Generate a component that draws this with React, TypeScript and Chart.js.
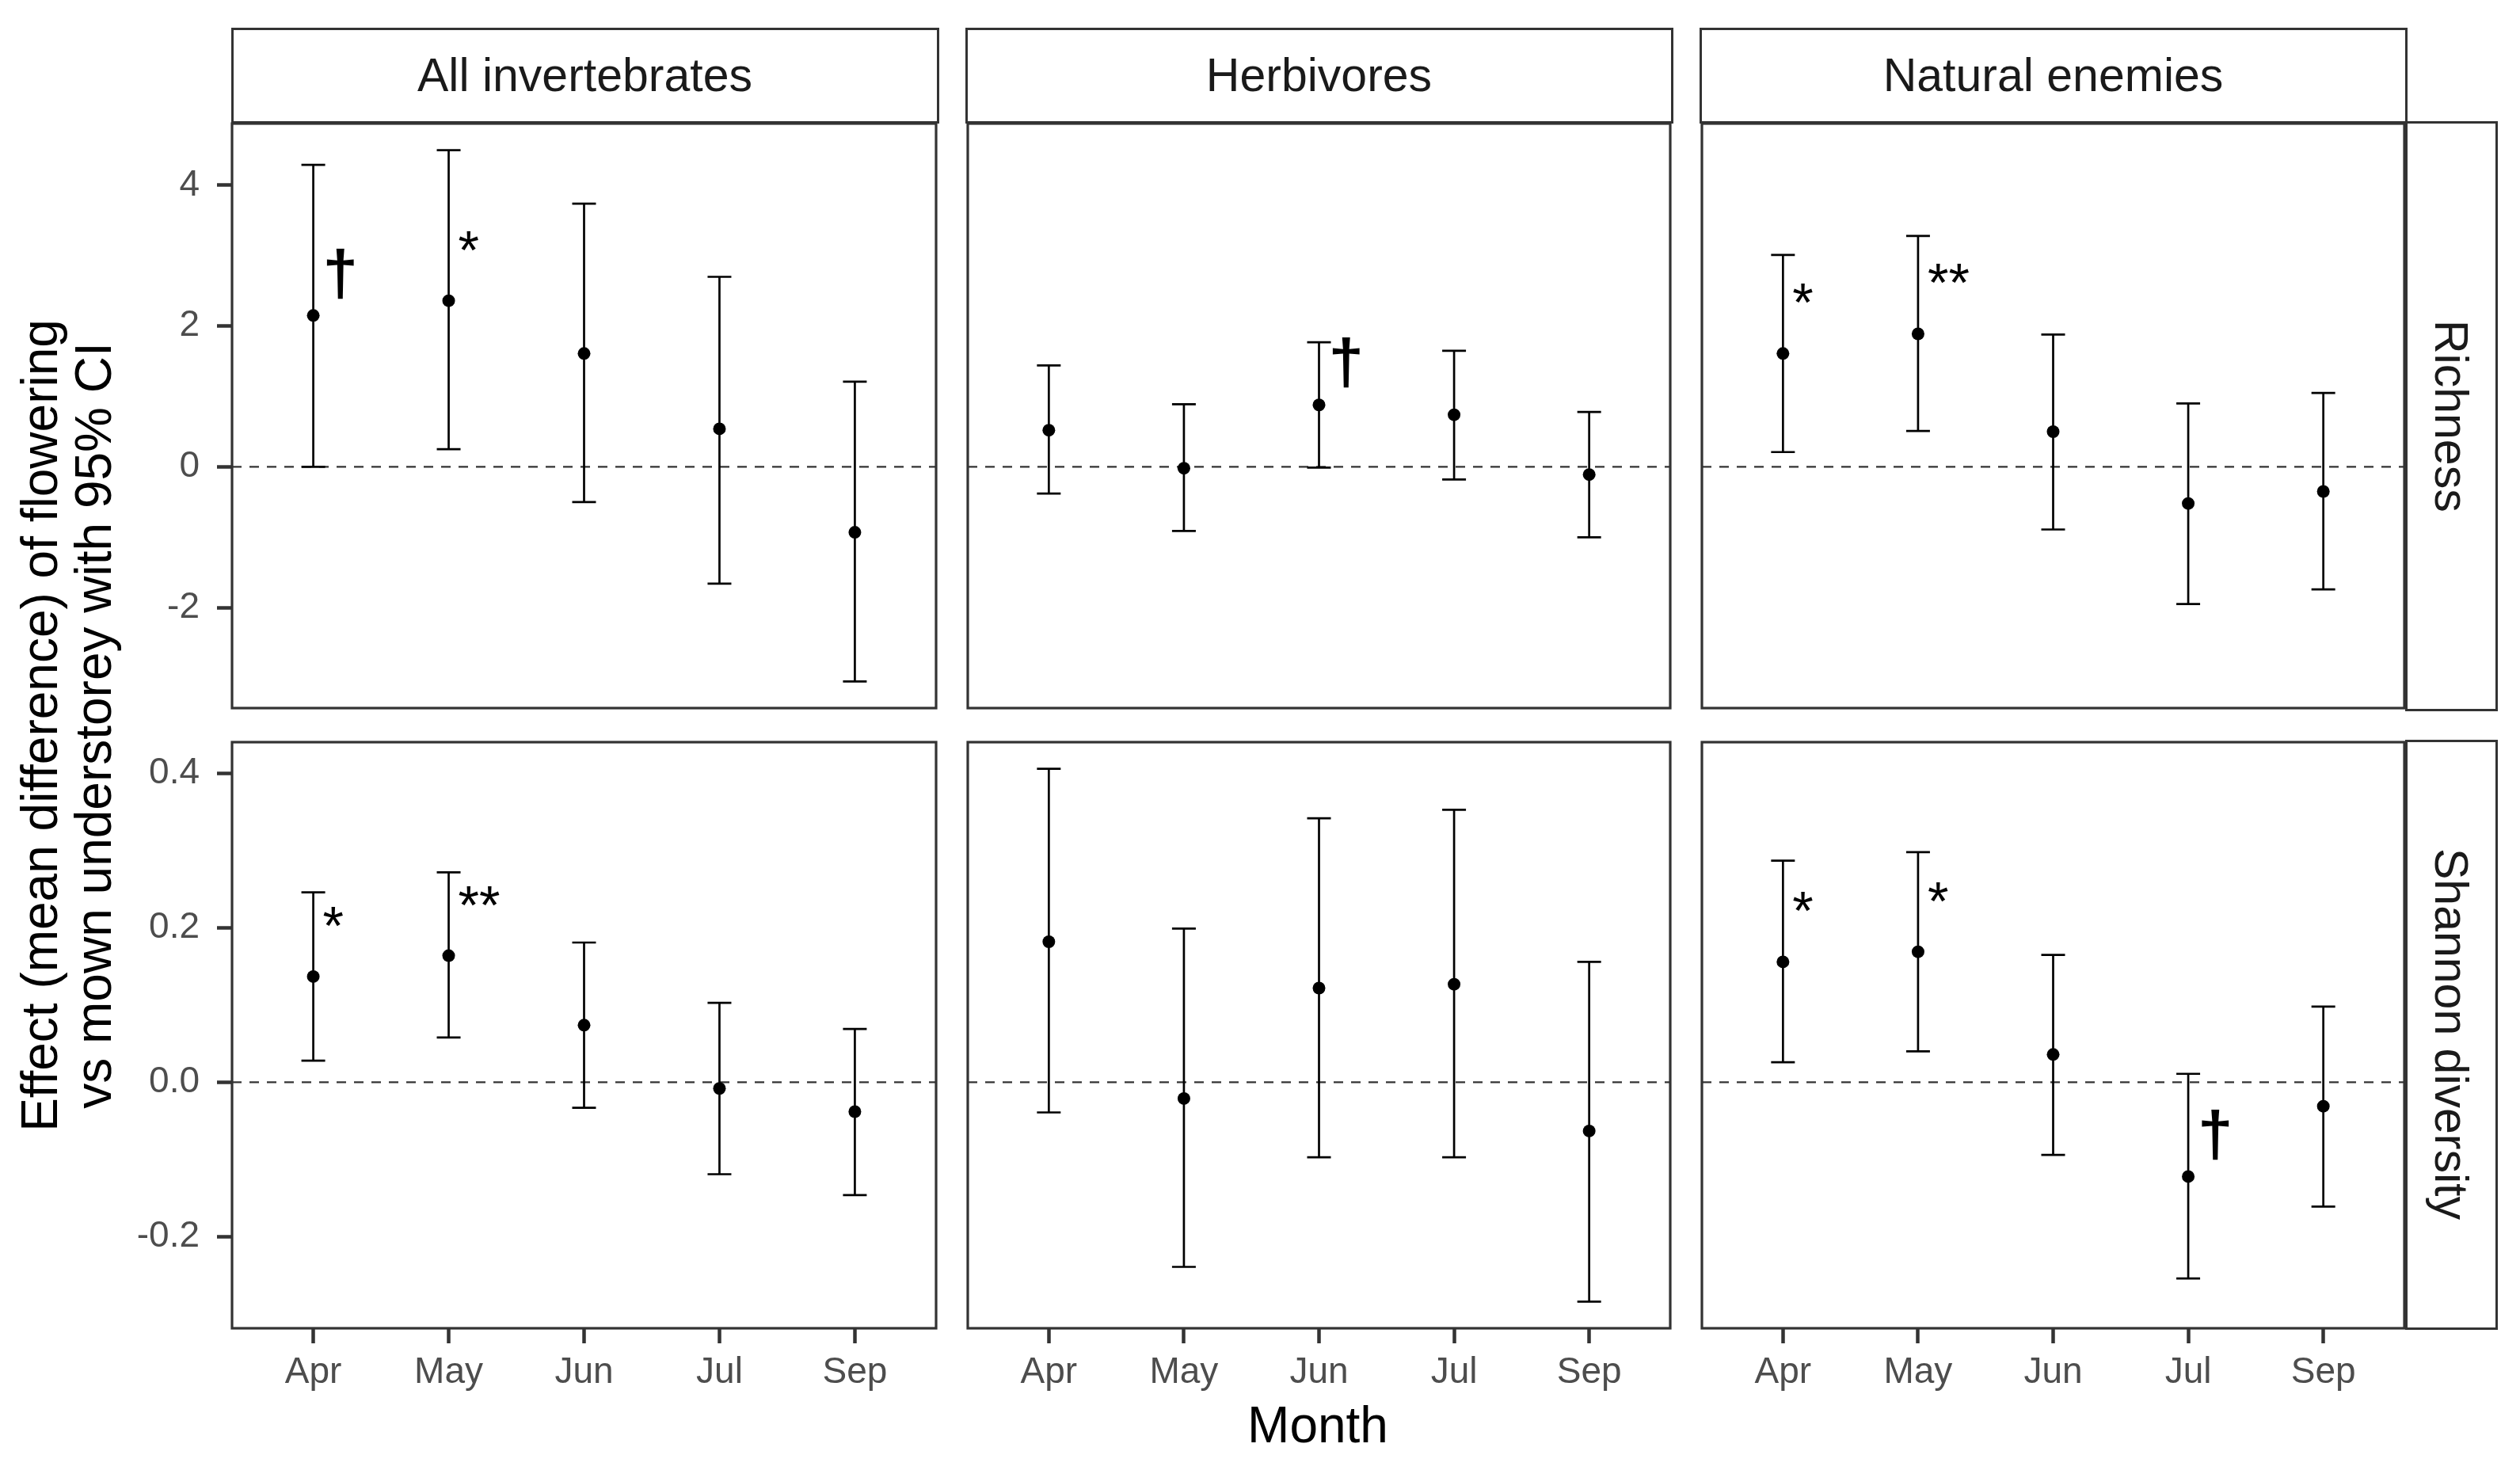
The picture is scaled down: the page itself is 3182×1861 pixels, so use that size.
import React, { useEffect, useRef } from 'react';
import { Chart, registerables } from 'chart.js';

Chart.register(...registerables);

// ---------------- data ----------------
const months = ['Apr', 'May', 'Jun', 'Jul', 'Sep'];
const groups = ['All invertebrates', 'Herbivores', 'Natural enemies'];
const measures = ['Richness', 'Shannon diversity'];

const richnessTicks = [-2, 0, 2, 4];
const richnessTickLabels = ['-2', '0', '2', '4'];
const shannonTicks = [-0.2, 0, 0.2, 0.4];
const shannonTickLabels = ['-0.2', '0.0', '0.2', '0.4'];

// Richness - All invertebrates
const richAllMean = [2.15, 2.36, 1.61, 0.54, -0.93];
const richAllLow = [0.0, 0.25, -0.5, -1.66, -3.05];
const richAllHigh = [4.29, 4.5, 3.74, 2.7, 1.21];
const richAllSig = ['†', '*', '', '', ''];

// Richness - Herbivores
const richHerbMean = [0.52, -0.02, 0.88, 0.74, -0.11];
const richHerbLow = [-0.38, -0.91, -0.01, -0.18, -1.0];
const richHerbHigh = [1.44, 0.89, 1.77, 1.65, 0.78];
const richHerbSig = ['', '', '†', '', ''];

// Richness - Natural enemies
const richNatMean = [1.61, 1.89, 0.5, -0.52, -0.35];
const richNatLow = [0.21, 0.51, -0.89, -1.95, -1.74];
const richNatHigh = [3.01, 3.28, 1.88, 0.9, 1.05];
const richNatSig = ['*', '**', '', '', ''];

// Shannon - All invertebrates
const shanAllMean = [0.137, 0.164, 0.074, -0.008, -0.038];
const shanAllLow = [0.028, 0.058, -0.033, -0.119, -0.146];
const shanAllHigh = [0.246, 0.272, 0.181, 0.103, 0.069];
const shanAllSig = ['*', '**', '', '', ''];

// Shannon - Herbivores
const shanHerbMean = [0.182, -0.021, 0.122, 0.127, -0.063];
const shanHerbLow = [-0.039, -0.239, -0.097, -0.097, -0.284];
const shanHerbHigh = [0.406, 0.199, 0.342, 0.353, 0.156];
const shanHerbSig = ['', '', '', '', ''];

// Shannon - Natural enemies
const shanNatMean = [0.156, 0.169, 0.036, -0.122, -0.031];
const shanNatLow = [0.026, 0.04, -0.094, -0.254, -0.161];
const shanNatHigh = [0.287, 0.298, 0.165, 0.011, 0.098];
const shanNatSig = ['*', '*', '', '†', ''];

// ---------------- layout / style ----------------
const W = 3182;
const H = 1861;
const PW = 891;
const PH = 742;
const colLeft = [293, 1220, 2147];
const rowTop = [154, 935];
const YW = 150;
const XH = 100;
const PAD = 6;
const CAP = 15;
const FONT = '"Liberation Sans", Arial, Helvetica, sans-serif';
const labelOffsets = [0.55, 0.05]; // label anchor above mean, per row (data units)

type Series = { mean: number[]; low: number[]; high: number[]; sig: string[] };

const rows: { ticks: number[]; tickLabels: string[]; series: Series[] }[] = [
  {
    ticks: richnessTicks,
    tickLabels: richnessTickLabels,
    series: [
      { mean: richAllMean, low: richAllLow, high: richAllHigh, sig: richAllSig },
      { mean: richHerbMean, low: richHerbLow, high: richHerbHigh, sig: richHerbSig },
      { mean: richNatMean, low: richNatLow, high: richNatHigh, sig: richNatSig },
    ],
  },
  {
    ticks: shannonTicks,
    tickLabels: shannonTickLabels,
    series: [
      { mean: shanAllMean, low: shanAllLow, high: shanAllHigh, sig: shanAllSig },
      { mean: shanHerbMean, low: shanHerbLow, high: shanHerbHigh, sig: shanHerbSig },
      { mean: shanNatMean, low: shanNatLow, high: shanNatHigh, sig: shanNatSig },
    ],
  },
];

function rowRange(r: number) {
  let lo = Infinity;
  let hi = -Infinity;
  rows[r].series.forEach((s) => {
    s.low.forEach((v) => (lo = Math.min(lo, v)));
    s.high.forEach((v) => (hi = Math.max(hi, v)));
  });
  const e = (hi - lo) * 0.05;
  return { min: lo - e, max: hi + e };
}

function canvasBox(r: number, c: number) {
  const left = colLeft[c] - PAD - (c === 0 ? YW : 0);
  const top = rowTop[r] - PAD;
  const width = PW + 2 * PAD + (c === 0 ? YW : 0);
  const height = PH + 2 * PAD + (r === 1 ? XH : 0);
  return { left, top, width, height };
}

function makePlugin(s: Series, offset: number) {
  return {
    id: 'panelDecor',
    beforeDatasetsDraw(chart: any) {
      const { ctx, chartArea: ca, scales } = chart;
      const x = scales.x;
      const y = scales.y;
      ctx.save();
      const y0 = y.getPixelForValue(0);
      ctx.beginPath();
      ctx.setLineDash([12, 10]);
      ctx.lineWidth = 2.3;
      ctx.strokeStyle = '#333333';
      ctx.moveTo(ca.left, y0);
      ctx.lineTo(ca.right, y0);
      ctx.stroke();
      ctx.setLineDash([]);
      ctx.strokeStyle = '#000000';
      ctx.lineWidth = 2.7;
      s.mean.forEach((_, i) => {
        const px = x.getPixelForValue(i + 1);
        const lo = y.getPixelForValue(s.low[i]);
        const hi = y.getPixelForValue(s.high[i]);
        ctx.beginPath();
        ctx.moveTo(px, lo);
        ctx.lineTo(px, hi);
        ctx.moveTo(px - CAP, lo);
        ctx.lineTo(px + CAP, lo);
        ctx.moveTo(px - CAP, hi);
        ctx.lineTo(px + CAP, hi);
        ctx.stroke();
      });
      ctx.restore();
    },
    afterDatasetsDraw(chart: any) {
      const { ctx, scales } = chart;
      ctx.save();
      ctx.fillStyle = '#000000';
      ctx.textAlign = 'left';
      ctx.textBaseline = 'middle';
      s.sig.forEach((lab, i) => {
        if (!lab) return;
        const px = scales.x.getPixelForValue(i + 1);
        const py = scales.y.getPixelForValue(s.mean[i] + offset);
        const isDagger = lab === '†';
        ctx.font = isDagger ? `bold 80px ${FONT}` : `68px ${FONT}`;
        ctx.fillText(lab, px + 12, isDagger ? py : py - 11);
      });
      ctx.restore();
    },
    afterDraw(chart: any) {
      const { ctx, chartArea: ca } = chart;
      ctx.save();
      ctx.strokeStyle = '#333333';
      ctx.lineWidth = 3.2;
      ctx.strokeRect(ca.left, ca.top, ca.right - ca.left, ca.bottom - ca.top);
      ctx.restore();
    },
  };
}

export default function App() {
  const refs = useRef<(HTMLCanvasElement | null)[]>([]);

  useEffect(() => {
    document.body.style.margin = '0';
    const charts: Chart[] = [];
    rows.forEach((row, r) => {
      const range = rowRange(r);
      row.series.forEach((s, c) => {
        const canvas = refs.current[r * 3 + c];
        if (!canvas) return;
        const isLeft = c === 0;
        const isBottom = r === 1;
        const chart = new Chart(canvas, {
          type: 'scatter',
          data: {
            datasets: [
              {
                data: s.mean.map((m, i) => ({ x: i + 1, y: m })),
                pointRadius: 8,
                pointHoverRadius: 8,
                pointBackgroundColor: '#000000',
                pointBorderWidth: 0,
                borderColor: '#000000',
              },
            ],
          },
          options: {
            animation: false,
            responsive: false,
            devicePixelRatio: 1,
            events: [],
            layout: { padding: { left: PAD, right: PAD, top: PAD, bottom: PAD } },
            plugins: { legend: { display: false }, tooltip: { enabled: false } },
            scales: {
              x: {
                type: 'linear',
                min: 0.4,
                max: months.length + 0.6,
                display: isBottom,
                afterBuildTicks: (sc: any) => {
                  sc.ticks = months.map((_, i) => ({ value: i + 1 }));
                },
                afterFit: (sc: any) => {
                  sc.height = isBottom ? XH : 0;
                  sc.paddingLeft = 0;
                  sc.paddingRight = 0;
                },
                ticks: {
                  autoSkip: false,
                  maxRotation: 0,
                  padding: 10,
                  color: '#4D4D4D',
                  font: { family: FONT, size: 46 },
                  callback: (v: any) => months[Math.round(Number(v)) - 1] ?? '',
                },
                grid: {
                  display: true,
                  drawOnChartArea: false,
                  drawTicks: true,
                  tickLength: 19,
                  tickWidth: 4.5,
                  tickColor: '#333333',
                },
                border: { display: false },
              },
              y: {
                type: 'linear',
                min: range.min,
                max: range.max,
                display: isLeft,
                afterBuildTicks: (sc: any) => {
                  sc.ticks = row.ticks.map((v) => ({ value: v }));
                },
                afterFit: (sc: any) => {
                  sc.width = isLeft ? YW : 0;
                  sc.paddingTop = 0;
                  sc.paddingBottom = 0;
                },
                ticks: {
                  padding: 22,
                  color: '#4D4D4D',
                  font: { family: FONT, size: 46 },
                  callback: (v: any) => {
                    const idx = row.ticks.findIndex((t) => Math.abs(t - Number(v)) < 1e-9);
                    return idx >= 0 ? row.tickLabels[idx] : '';
                  },
                },
                grid: {
                  display: true,
                  drawOnChartArea: false,
                  drawTicks: true,
                  tickLength: 19,
                  tickWidth: 4.5,
                  tickColor: '#333333',
                },
                border: { display: false },
              },
            },
          } as any,
          plugins: [makePlugin(s, labelOffsets[r]) as any],
        });
        charts.push(chart);
      });
    });
    return () => charts.forEach((ch) => ch.destroy());
  }, []);

  const canvases: React.ReactNode[] = [];
  rows.forEach((_, r) => {
    groups.forEach((__, c) => {
      const b = canvasBox(r, c);
      canvases.push(
        <canvas
          key={`c${r}${c}`}
          ref={(el) => {
            refs.current[r * 3 + c] = el;
          }}
          width={b.width}
          height={b.height}
          style={{ position: 'absolute', left: b.left, top: b.top, width: b.width, height: b.height }}
        />
      );
    });
  });

  return (
    <div
      style={{
        position: 'absolute',
        left: 0,
        top: 0,
        width: W,
        height: H,
        background: '#ffffff',
        overflow: 'hidden',
        fontFamily: FONT,
      }}
    >
      {groups.map((g, c) => (
        <div
          key={g}
          style={{
            position: 'absolute',
            left: colLeft[c] - 1.5,
            top: 35,
            width: PW + 3,
            height: rowTop[0] + 1.5 - 35,
            boxSizing: 'border-box',
            border: '3px solid #333333',
            display: 'flex',
            alignItems: 'center',
            justifyContent: 'center',
            fontSize: 59,
            color: '#1A1A1A',
          }}
        >
          {g}
        </div>
      ))}
      {measures.map((m, r) => (
        <div
          key={m}
          style={{
            position: 'absolute',
            left: colLeft[2] + PW - 1.5,
            top: rowTop[r] - 1.5,
            width: 3154 - (colLeft[2] + PW - 1.5),
            height: PH + 3,
            boxSizing: 'border-box',
            border: '3px solid #333333',
            display: 'flex',
            alignItems: 'center',
            justifyContent: 'center',
            writingMode: 'vertical-rl',
            fontSize: 59,
            color: '#1A1A1A',
          }}
        >
          {m}
        </div>
      ))}
      {canvases}
      <div
        style={{
          position: 'absolute',
          left: 84 - 850,
          top: 916 - 68,
          width: 1700,
          height: 136,
          lineHeight: '68px',
          fontSize: 64,
          textAlign: 'center',
          color: '#000000',
          transform: 'rotate(-90deg)',
          transformOrigin: '50% 50%',
          whiteSpace: 'nowrap',
        }}
      >
        Effect (mean difference) of flowering
        <br />
        vs mown understorey with 95% CI
      </div>
      <div
        style={{
          position: 'absolute',
          left: 1664 - 500,
          top: 1767,
          width: 1000,
          lineHeight: '64px',
          fontSize: 64,
          textAlign: 'center',
          color: '#000000',
        }}
      >
        Month
      </div>
    </div>
  );
}
